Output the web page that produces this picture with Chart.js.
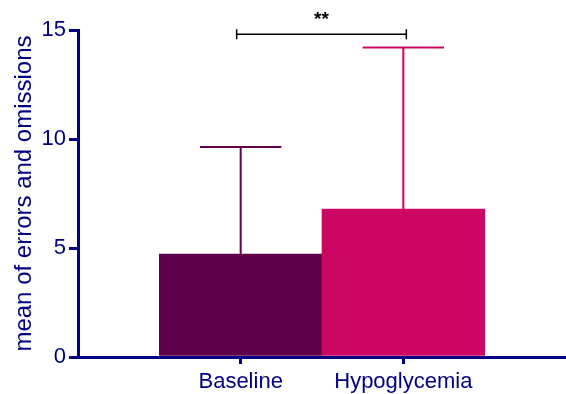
<!DOCTYPE html>
<html>
<head>
<meta charset="utf-8">
<script src="https://cdn.jsdelivr.net/npm/chart.js@4/dist/chart.umd.min.js"></script>
<style>
  body { margin: 0; background: #fff; }
  #myChart { display: block; }
</style>
</head>
<body>
<canvas id="myChart" width="566" height="394"></canvas>
<script>
// donnees
const categories = ['Baseline', 'Hypoglycemia'];
const moyennes = [4.72, 6.79];
const ecartTypes = [4.91, 7.41];
const couleurs = ['#60004b', '#cc0763'];
const yTicks = [0, 5, 10, 15];
const signif = '**';
const signifNiveau = 14.8;

const navy = '#000080';
const police = "'Liberation Sans', Arial, sans-serif";

// barres d'erreur (moyenne + ecart type)
const errorBars = {
  id: 'errorBars',
  afterDatasetsDraw(chart) {
    const ctx = chart.ctx;
    const x = chart.scales.x, y = chart.scales.y;
    ctx.save();
    categories.forEach((c, i) => {
      const cx = x.getPixelForValue(i + 1);
      const half = x.getPixelForValue(i + 1.25) - cx;
      const yBas = y.getPixelForValue(moyennes[i]);
      const yHaut = y.getPixelForValue(moyennes[i] + ecartTypes[i]);
      ctx.strokeStyle = couleurs[i];
      ctx.lineWidth = 2;
      ctx.beginPath();
      ctx.moveTo(cx, yBas);
      ctx.lineTo(cx, yHaut);
      ctx.moveTo(cx - half, yHaut);
      ctx.lineTo(cx + half, yHaut);
      ctx.stroke();
    });
    // crochet de significativite
    const x1 = x.getPixelForValue(1) - 4;
    const x2 = x.getPixelForValue(2) + 3;
    const ys = y.getPixelForValue(signifNiveau);
    ctx.strokeStyle = '#000';
    ctx.lineWidth = 1.5;
    ctx.beginPath();
    ctx.moveTo(x1, ys); ctx.lineTo(x2, ys);
    ctx.moveTo(x1, ys - 5); ctx.lineTo(x1, ys + 5);
    ctx.moveTo(x2, ys - 5); ctx.lineTo(x2, ys + 5);
    ctx.stroke();
    ctx.fillStyle = '#000';
    ctx.font = 'bold 19px ' + police;
    ctx.textAlign = 'center';
    ctx.textBaseline = 'middle';
    ctx.fillText(signif, (x1 + x2) / 2, ys - 15);
    ctx.restore();
  }
};

new Chart(document.getElementById('myChart'), {
  type: 'bar',
  data: {
    datasets: [{
      data: categories.map((c, i) => ({ x: i + 1, y: moyennes[i] })),
      backgroundColor: couleurs,
      borderWidth: 0,
      categoryPercentage: 1,
      barPercentage: 1
    }]
  },
  options: {
    responsive: false,
    animation: false,
    devicePixelRatio: 1,
    layout: { padding: { top: 30, right: 0, left: 0, bottom: 0 } },
    plugins: { legend: { display: false }, tooltip: { enabled: false } },
    scales: {
      x: {
        type: 'linear',
        offset: false,
        min: 0,
        max: 3,
        afterBuildTicks: (s) => { s.ticks = [0, 1, 2, 3].map(v => ({ value: v })); },
        afterFit: (s) => { s.height = 37; s.paddingLeft = 0; s.paddingRight = 0; },
        border: { display: true, color: navy, width: 3 },
        grid: {
          offset: false,
          drawOnChartArea: false,
          lineWidth: 3,
          tickLength: 7,
          tickColor: (c) => (c.tick && (c.tick.value === 1 || c.tick.value === 2)) ? navy : 'rgba(0,0,0,0)'
        },
        ticks: {
          color: navy,
          padding: 5,
          autoSkip: false,
          maxRotation: 0,
          font: { family: police, size: 22 },
          callback: (v) => categories[v - 1] || ''
        }
      },
      y: {
        min: 0,
        max: 15,
        afterBuildTicks: (s) => { s.ticks = yTicks.map(v => ({ value: v })); },
        afterFit: (s) => { s.width = 78; },
        border: { display: true, color: navy, width: 3 },
        grid: { drawOnChartArea: false, lineWidth: 3, tickLength: 9, color: navy },
        ticks: {
          color: navy,
          padding: 3,
          font: { family: police, size: 22 }
        },
        title: {
          display: true,
          text: 'mean of errors and omissions',
          color: navy,
          padding: { top: 10, bottom: 0 },
          font: { family: police, size: 24 }
        }
      }
    }
  },
  plugins: [errorBars]
});
</script>
</body>
</html>
